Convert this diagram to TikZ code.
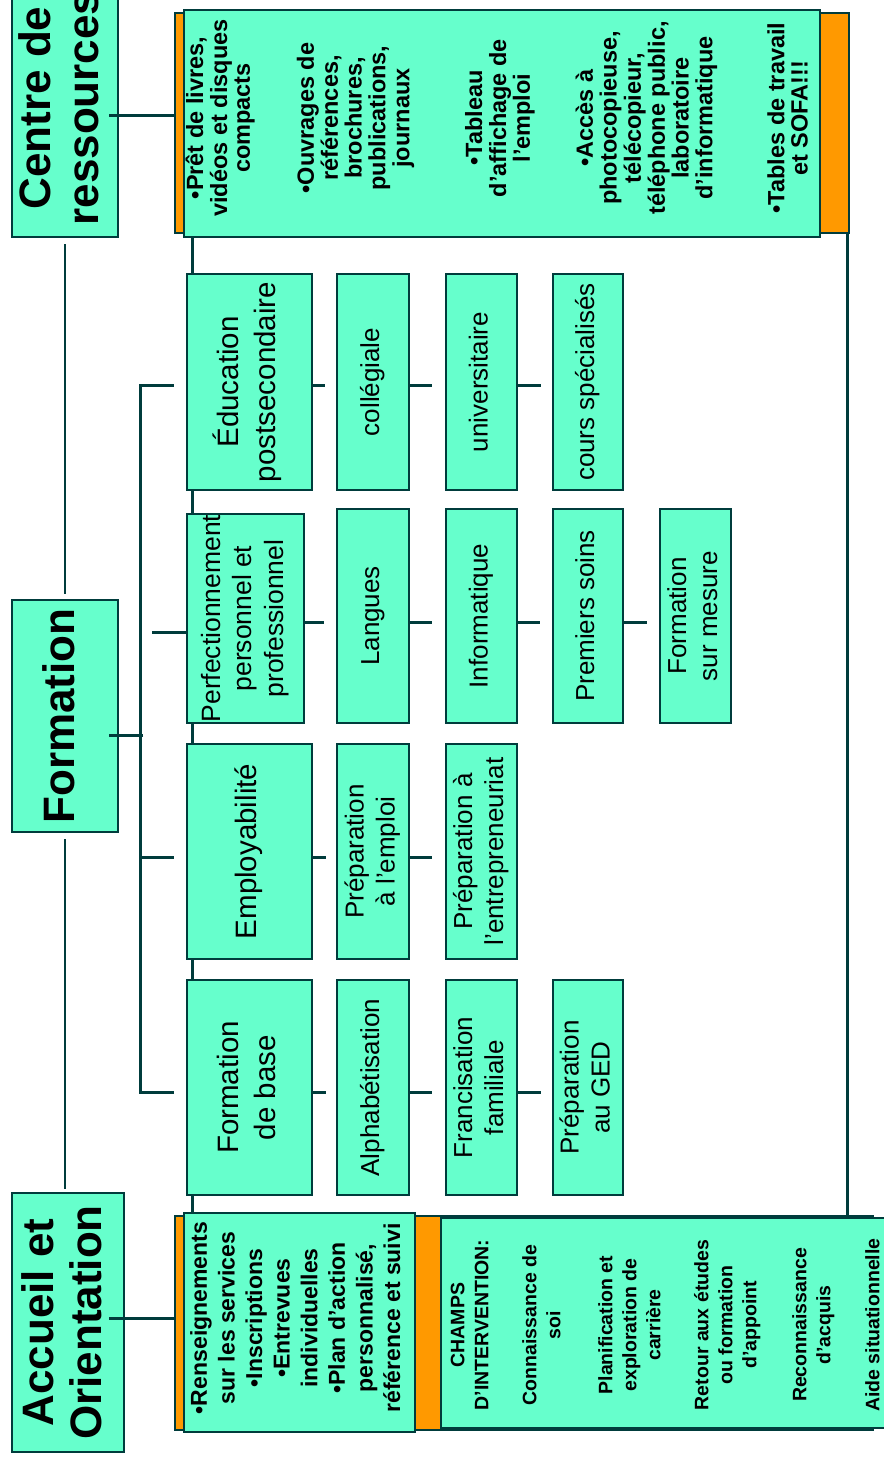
\documentclass[tikz,border=0pt]{standalone}
\usepackage{fontspec}
\setmainfont{Liberation Sans}
\usepackage{graphicx}
\definecolor{boxfill}{RGB}{102,255,204}
\definecolor{edgecol}{RGB}{0,60,60}
\definecolor{orng}{RGB}{255,153,0}
\newcommand{\vl}[1]{\rotatebox{90}{\begin{tabular}{@{}c@{}}#1\end{tabular}}}
\pgfdeclarelayer{back}
\pgfsetlayers{back,main}
\begin{document}
\begin{tikzpicture}[x=1pt,y=-1pt,
  bx/.style={rectangle, draw=edgecol, fill=boxfill, line width=2.8pt, inner sep=0pt},
  obx/.style={rectangle, draw=edgecol, fill=orng, line width=2.8pt, inner sep=0pt},
  conn/.style={draw=edgecol, line width=3pt},
  hd/.style={bx, font=\fontsize{44}{48}\selectfont\bfseries},
  lone/.style={bx, font=\fontsize{29.5}{36.5}\selectfont, minimum width=125},
  ltwo/.style={bx, font=\fontsize{26}{31}\selectfont},
  txt/.style={inner sep=0pt}
]
\useasboundingbox (0,0) rectangle (884,1460);
\clip (0,0) rectangle (884,1460);

% headings
\node[hd, minimum width=106, minimum height=258] (centre) at (65,108) {\vl{Centre de\\ressources}};
\node[hd, minimum width=106, minimum height=232] (formation) at (65,716) {\vl{Formation}};
\node[hd, minimum width=112, minimum height=259] (accueil) at (68,1322.5) {\vl{Accueil et\\Orientation}};

% resources block
\node[obx, minimum width=674, minimum height=220] (resor) at (512,123) {};
\node[bx, minimum width=636, minimum height=227] (resg) at (502,123.5) {};
\node[txt, font=\fontsize{23.5}{22.7}\selectfont\bfseries] (restxt) at (500,118) {\vl{•Prêt de livres,\\vidéos et disques\\compacts\\[40pt]•Ouvrages de\\références,\\brochures,\\publications,\\journaux\\[49pt]•Tableau\\d’affichage de\\l’emploi\\[39pt]•Accès à\\photocopieuse,\\télécopieur,\\téléphone public,\\laboratoire\\d’informatique\\[48pt]•Tables de travail\\et SOFA!!!}};

% accueil block
\node[obx, minimum width=698, minimum height=214] (accor) at (524,1323) {};
\node[bx, minimum width=231, minimum height=219] (accg) at (299.5,1322.5) {};
\node[txt, font=\fontsize{23}{27.6}\selectfont\bfseries] (acctxt) at (298,1318) {\vl{•Renseignements\\sur les services\\•Inscriptions\\•Entrevues\\individuelles\\•Plan d’action\\personnalisé,\\référence et suivi}};
\node[bx, minimum width=454, minimum height=210] (champs) at (668,1323) {};
\node[txt, font=\fontsize{19.5}{24}\selectfont\bfseries] (champstxt) at (667,1325) {\vl{CHAMPS\\D’INTERVENTION:\\[24pt]Connaissance de\\soi\\[28pt]Planification et\\exploration de\\carrière\\[24pt]Retour aux études\\ou formation\\d’appoint\\[26pt]Reconnaissance\\d’acquis\\[25pt]Aide situationnelle}};

% level 1
\node[lone, minimum height=216] (edu) at (249.5,382) {\vl{Éducation\\postsecondaire}};
\node[bx, font=\fontsize{26.5}{31.5}\selectfont, minimum width=117, minimum height=209] (perf) at (245.5,618.5) {\vl{Perfectionnement\\personnel et\\professionnel}};
\node[lone, minimum height=215] (empl) at (249.5,851.5) {\vl{Employabilité}};
\node[lone, minimum height=215] (fbase) at (249.5,1087.5) {\vl{Formation\\de base}};

% level 2
\node[ltwo, minimum width=72, minimum height=216] (coll) at (373,382) {\vl{collégiale}};
\node[ltwo, minimum width=72, minimum height=214] (lang) at (373,616) {\vl{Langues}};
\node[ltwo, minimum width=72, minimum height=215] (prepemp) at (373,851.5) {\vl{Préparation\\à l’emploi}};
\node[ltwo, minimum width=72, minimum height=215] (alpha) at (373,1087.5) {\vl{Alphabétisation}};

% level 3
\node[ltwo, minimum width=71, minimum height=216] (univ) at (481.5,382) {\vl{universitaire}};
\node[ltwo, minimum width=71, minimum height=214] (info) at (481.5,616) {\vl{Informatique}};
\node[ltwo, minimum width=71, minimum height=215] (prepent) at (481.5,851.5) {\vl{Préparation à\\l’entrepreneuriat}};
\node[ltwo, minimum width=71, minimum height=215] (franc) at (481.5,1087.5) {\vl{Francisation\\familiale}};

% level 4
\node[ltwo, minimum width=70, minimum height=216] (cours) at (588,382) {\vl{cours spécialisés}};
\node[ltwo, minimum width=70, minimum height=214] (prem) at (588,616) {\vl{Premiers soins}};
\node[ltwo, minimum width=70, minimum height=215] (ged) at (588,1087.5) {\vl{Préparation\\au GED}};

% level 5
\node[ltwo, minimum width=71, minimum height=214] (mesure) at (695.5,616) {\vl{Formation\\sur mesure}};

\begin{pgfonlayer}{back}
\coordinate (r1) at (0,385);
\coordinate (r2) at (0,622);
\coordinate (r3) at (0,857);
\coordinate (r4) at (0,1092);
\draw[conn, shorten >=11pt] (edu.east |- r1) -- (coll.west |- r1);
\draw[conn, shorten >=13pt] (coll.east |- r1) -- (univ.west |- r1);
\draw[conn, shorten >=11pt] (univ.east |- r1) -- (cours.west |- r1);
\draw[conn, shorten >=12pt] (perf.east |- r2) -- (lang.west |- r2);
\draw[conn, shorten >=13pt] (lang.east |- r2) -- (info.west |- r2);
\draw[conn, shorten >=12pt] (info.east |- r2) -- (prem.west |- r2);
\draw[conn, shorten >=12pt] (prem.east |- r2) -- (mesure.west |- r2);
\draw[conn, shorten >=10pt] (empl.east |- r3) -- (prepemp.west |- r3);
\draw[conn, shorten >=13pt] (prepemp.east |- r3) -- (prepent.west |- r3);
\draw[conn, shorten >=10pt] (fbase.east |- r4) -- (alpha.west |- r4);
\draw[conn, shorten >=13pt] (alpha.east |- r4) -- (franc.west |- r4);
\draw[conn, shorten >=11pt] (franc.east |- r4) -- (ged.west |- r4);

% bracket
\coordinate (bt) at (140,385);
\coordinate (bb) at (140,1092);
\coordinate (bm) at (140,857);
\coordinate (ptk) at (152,632);
\draw[conn, shorten <=12pt, shorten >=12pt] (edu.west |- bt) -- (bt) -- (bb) -- (fbase.west |- bb);
\draw[conn, shorten >=12pt] (bm) -- (empl.west |- bm);
\draw[conn] (ptk) -- (perf.west |- ptk);

% heading column
\draw[conn, line width=2.6pt, shorten <=6pt, shorten >=5pt] (centre.south) -- (formation.north);
\draw[conn, line width=2.6pt, shorten <=6pt, shorten >=3pt] (formation.south) -- (formation.south |- accueil.north);

% x=192 verticals
\coordinate (v) at (192,0);
\draw[conn] (resg.south -| v) -- (edu.north -| v);
\draw[conn] (edu.south -| v) -- (perf.north -| v);
\draw[conn] (perf.south -| v) -- (empl.north -| v);
\draw[conn] (empl.south -| v) -- (fbase.north -| v);
\draw[conn] (fbase.south -| v) -- (accg.north -| v);

% right vertical
\coordinate (vr) at (847,0);
\draw[conn] (resor.south -| vr) -- (accor.north -| vr);
\end{pgfonlayer}

% heading connectors (drawn over heading boxes)
\coordinate (c1) at (0,115);
\coordinate (a1) at (0,1318);
\coordinate (fj) at (143,735);
\draw[conn, shorten <=-10pt] (centre.east |- c1) -- (resor.west |- c1);
\draw[conn, shorten <=-16pt] (accueil.east |- a1) -- (accor.west |- a1);
\draw[conn, shorten >=-10pt] (fj) -- (formation.east |- fj);
\end{tikzpicture}
\end{document}
